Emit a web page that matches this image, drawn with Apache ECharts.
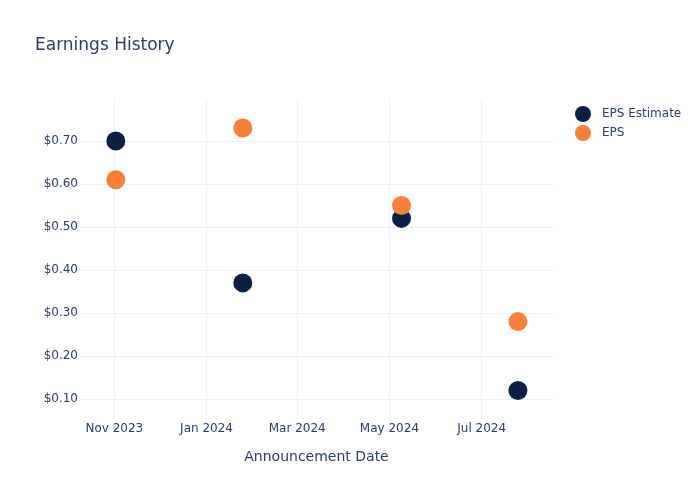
<!DOCTYPE html>
<html>
<head>
<meta charset="utf-8">
<script src="https://cdn.jsdelivr.net/npm/echarts@6/dist/echarts.min.js"></script>
<style>html,body{margin:0;padding:0;background:#fff}#chart{width:700px;height:500px}</style>
</head>
<body>
<div id="chart"></div>
<script>
const dates = ['2023-11-02', '2024-01-25', '2024-05-09', '2024-07-25'];
const epsEstimate = [0.70, 0.37, 0.52, 0.12];
const eps = [0.61, 0.73, 0.55, 0.28];
const xTickDates = ['2023-11-01', '2024-01-01', '2024-03-01', '2024-05-01', '2024-07-01'];
const xTickLabels = ['Nov 2023', 'Jan 2024', 'Mar 2024', 'May 2024', 'Jul 2024'];
const yTickValues = [0.1, 0.2, 0.3, 0.4, 0.5, 0.6, 0.7];
const yTickLabels = ['$0.10', '$0.20', '$0.30', '$0.40', '$0.50', '$0.60', '$0.70'];

const ts = s => { const p = s.split('-').map(Number); return Date.UTC(p[0], p[1] - 1, p[2]); };
const xTickTs = xTickDates.map(ts);
const FONT = 'DejaVu Sans';
const TXT = '#2a3f5f';
const GRID = '#ebf0f8';

const chart = echarts.init(document.getElementById('chart'));
chart.setOption({
  animation: false,
  backgroundColor: '#fff',
  textStyle: { fontFamily: FONT, color: TXT },
  title: {
    text: 'Earnings History', left: 30, top: 32,
    textStyle: { fontFamily: FONT, fontSize: 17, fontWeight: 'normal', color: TXT }
  },
  legend: {
    orient: 'vertical', left: 570, top: 101, itemGap: 3,
    itemWidth: 16, itemHeight: 16, icon: 'circle',
    textStyle: { fontFamily: FONT, fontSize: 12, color: TXT, padding: [0, 0, 0, 6] }
  },
  grid: { left: 80, right: 147, top: 100, bottom: 80, containLabel: false },
  xAxis: {
    type: 'value',
    min: ts('2023-10-09') + 0.3 * 86400000,
    max: ts('2024-08-17') + 0.2 * 86400000,
    name: 'Announcement Date', nameLocation: 'middle', nameGap: 30,
    nameTextStyle: { fontFamily: FONT, fontSize: 14, color: TXT },
    axisLine: { show: false },
    axisTick: { show: false, customValues: xTickTs },
    splitLine: { show: true, lineStyle: { color: GRID, width: 1 } },
    axisLabel: {
      customValues: xTickTs, margin: 3, fontFamily: FONT, fontSize: 12, color: TXT,
      formatter: v => { const i = xTickTs.indexOf(v); return i >= 0 ? xTickLabels[i] : ''; }
    }
  },
  yAxis: {
    type: 'value', min: 0.0512, max: 0.7953,
    axisLine: { show: false },
    axisTick: { show: false, customValues: yTickValues },
    splitLine: { show: true, lineStyle: { color: GRID, width: 1 } },
    axisLabel: {
      customValues: yTickValues, margin: 2, fontFamily: FONT, fontSize: 12, color: TXT,
      formatter: v => { const i = yTickValues.findIndex(t => Math.abs(t - v) < 1e-6); return i >= 0 ? yTickLabels[i] : ''; }
    }
  },
  series: [
    {
      name: 'EPS Estimate', type: 'scatter', symbolSize: 19,
      itemStyle: { color: '#0b1f44', opacity: 1 },
      data: dates.map((d, i) => [ts(d), epsEstimate[i]])
    },
    {
      name: 'EPS', type: 'scatter', symbolSize: 19,
      itemStyle: { color: '#f58136', opacity: 1 },
      data: dates.map((d, i) => [ts(d), eps[i]])
    }
  ]
});
</script>
</body>
</html>
